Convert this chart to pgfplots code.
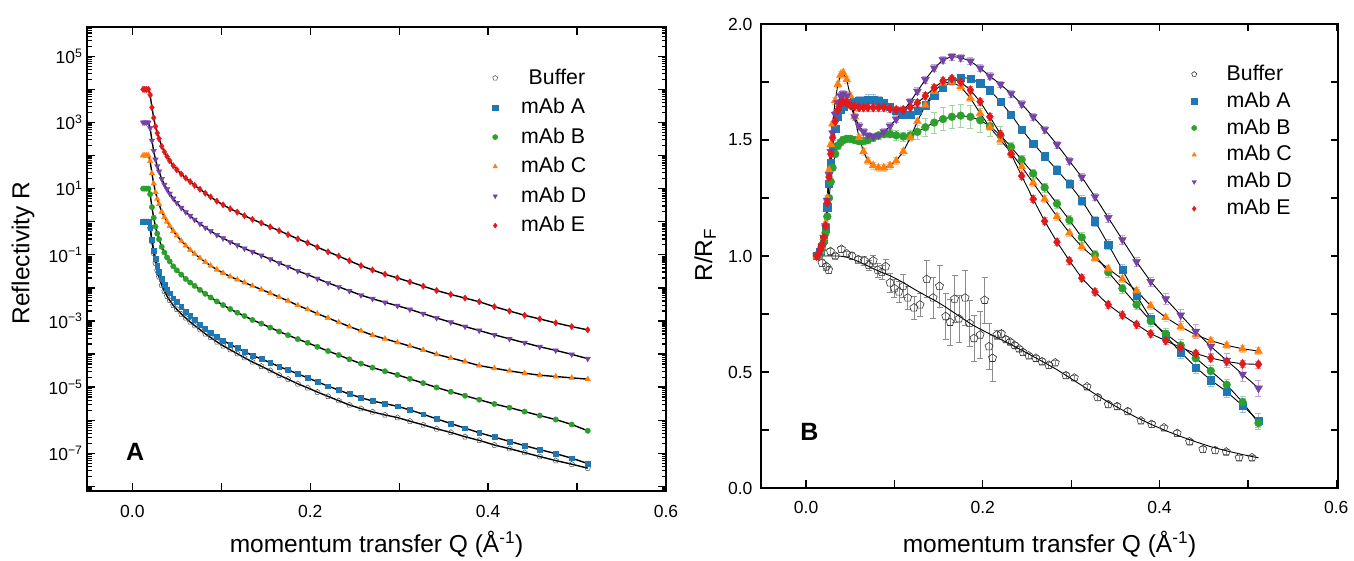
\documentclass[border=0pt]{standalone}
\usepackage{fontspec}
\setmainfont{Liberation Sans}
\usepackage{pgfplots}
\usepackage{pgfplotstable}
\pgfplotsset{compat=1.18}
\definecolor{cA}{RGB}{31,119,180}
\definecolor{cB}{RGB}{44,160,44}
\definecolor{cC}{RGB}{255,127,14}
\definecolor{cD}{RGB}{117,66,168}
\definecolor{cE}{RGB}{227,26,28}
\newcommand\tickfont{\fontsize{17.5}{20}\selectfont}
\newcommand\labfont{\fontsize{24.5}{28}\selectfont}
\newcommand\legfont{\fontsize{21.3}{24}\selectfont}
\pgfplotsset{mylegimg/.style={legend image code/.code={\draw[##1,mark size=2.6pt] plot coordinates {(0pt,0pt)}; \path[draw=none,fill=none] (-6pt,-6pt) rectangle (#1,6pt);}}}
\def\minorlist{-8.09691,-8.04576}%
\foreach \d in {-8,...,5}{\foreach \m in {0.30103,0.47712,0.60206,0.69897,0.77815,0.84510,0.90309,0.95424}{\pgfmathsetmacro\v{\d+\m}\xdef\minorlist{\minorlist,\v}}}%
% columns: Q, R/RF, error of R/RF, log10 R (offset)
\pgfplotstableread{
Q r e lr
0.012 1.00 0.01 0.00
0.014 1.00 0.01 0.00
0.016 1.02 0.01 0.00
0.018 1.04 0.01 0.00
0.020 1.07 0.01 -0.17
0.022 1.12 0.01 -0.55
0.024 1.21 0.01 -0.87
0.026 1.31 0.01 -1.13
0.028 1.40 0.01 -1.33
0.030 1.47 0.01 -1.50
0.033 1.55 0.015 -1.73
0.036 1.60 0.015 -1.90
0.039 1.63 0.015 -2.04
0.042 1.645 0.015 -2.16
0.046 1.655 0.015 -2.31
0.050 1.66 0.015 -2.43
0.055 1.665 0.015 -2.56
0.060 1.67 0.02 -2.71
0.065 1.67 0.02 -2.84
0.070 1.672 0.025 -2.97
0.076 1.672 0.025 -3.11
0.082 1.67 0.02 -3.24
0.088 1.66 0.015 -3.35
0.095 1.645 0.015 -3.47
0.102 1.625 0.015 -3.59
0.110 1.61 0.015 -3.71
0.118 1.61 0.015 -3.82
0.126 1.625 0.015 -3.93
0.135 1.65 0.015 -4.04
0.145 1.69 0.015 -4.15
0.155 1.725 0.015 -4.26
0.165 1.755 0.015 -4.38
0.175 1.77 0.015 -4.48
0.186 1.765 0.015 -4.60
0.197 1.745 0.015 -4.72
0.208 1.715 0.015 -4.84
0.220 1.665 0.015 -4.97
0.232 1.61 0.015 -5.09
0.244 1.545 0.015 -5.21
0.257 1.485 0.015 -5.32
0.270 1.43 0.015 -5.42
0.284 1.37 0.02 -5.50
0.298 1.31 0.02 -5.58
0.312 1.24 0.02 -5.69
0.327 1.15 0.02 -5.82
0.342 1.05 0.02 -5.96
0.358 0.94 0.025 -6.10
0.374 0.83 0.025 -6.24
0.390 0.73 0.025 -6.38
0.407 0.655 0.025 -6.51
0.424 0.585 0.025 -6.64
0.441 0.52 0.025 -6.77
0.458 0.465 0.025 -6.89
0.476 0.415 0.025 -7.01
0.494 0.355 0.03 -7.15
0.512 0.29 0.03 -7.31
}\tabA
\pgfplotstableread{
Q r e lr
0.012 1.00 0.01 1.00
0.014 1.00 0.01 1.00
0.016 1.01 0.01 1.00
0.018 1.03 0.01 1.00
0.020 1.06 0.01 0.83
0.022 1.10 0.01 0.44
0.024 1.17 0.01 0.12
0.026 1.25 0.01 -0.15
0.028 1.32 0.01 -0.36
0.030 1.38 0.01 -0.53
0.033 1.44 0.015 -0.76
0.036 1.475 0.015 -0.93
0.039 1.49 0.015 -1.08
0.042 1.50 0.015 -1.20
0.046 1.505 0.015 -1.35
0.050 1.505 0.015 -1.47
0.055 1.50 0.015 -1.60
0.060 1.495 0.015 -1.73
0.065 1.495 0.015 -1.84
0.070 1.50 0.015 -1.94
0.076 1.51 0.015 -2.06
0.082 1.52 0.015 -2.18
0.088 1.525 0.015 -2.29
0.095 1.525 0.015 -2.41
0.102 1.52 0.02 -2.52
0.110 1.515 0.02 -2.64
0.118 1.52 0.02 -2.75
0.126 1.535 0.03 -2.85
0.135 1.555 0.04 -2.97
0.145 1.575 0.045 -3.08
0.155 1.59 0.05 -3.20
0.165 1.60 0.05 -3.32
0.175 1.605 0.05 -3.43
0.186 1.60 0.05 -3.55
0.197 1.585 0.05 -3.66
0.208 1.56 0.045 -3.78
0.220 1.52 0.04 -3.91
0.232 1.47 0.02 -4.03
0.244 1.415 0.02 -4.16
0.257 1.355 0.02 -4.29
0.270 1.295 0.02 -4.41
0.284 1.225 0.02 -4.52
0.298 1.155 0.02 -4.63
0.312 1.08 0.02 -4.75
0.327 1.005 0.02 -4.88
0.342 0.93 0.02 -5.01
0.358 0.86 0.02 -5.14
0.374 0.79 0.02 -5.26
0.390 0.72 0.025 -5.38
0.407 0.665 0.025 -5.51
0.424 0.615 0.025 -5.62
0.441 0.56 0.025 -5.74
0.458 0.505 0.025 -5.86
0.476 0.445 0.025 -5.98
0.494 0.37 0.025 -6.13
0.512 0.28 0.025 -6.32
}\tabB
\pgfplotstableread{
Q r e lr
0.012 1.00 0.01 2.00
0.014 1.00 0.01 2.00
0.016 1.02 0.01 2.00
0.018 1.04 0.01 2.00
0.020 1.08 0.01 1.83
0.022 1.14 0.01 1.46
0.024 1.25 0.01 1.15
0.026 1.37 0.01 0.89
0.028 1.48 0.01 0.69
0.030 1.57 0.01 0.53
0.033 1.67 0.015 0.30
0.036 1.74 0.015 0.14
0.039 1.78 0.015 0.00
0.042 1.79 0.015 -0.13
0.046 1.76 0.015 -0.28
0.050 1.69 0.015 -0.42
0.055 1.60 0.015 -0.58
0.060 1.51 0.015 -0.72
0.065 1.45 0.015 -0.85
0.070 1.41 0.015 -0.97
0.076 1.39 0.015 -1.10
0.082 1.38 0.015 -1.22
0.088 1.38 0.015 -1.33
0.095 1.39 0.015 -1.45
0.102 1.41 0.015 -1.55
0.110 1.45 0.015 -1.66
0.118 1.51 0.015 -1.75
0.126 1.58 0.015 -1.84
0.135 1.65 0.015 -1.94
0.145 1.71 0.015 -2.05
0.155 1.745 0.015 -2.16
0.165 1.75 0.015 -2.28
0.175 1.73 0.015 -2.39
0.186 1.68 0.015 -2.53
0.197 1.615 0.015 -2.65
0.208 1.555 0.015 -2.78
0.220 1.50 0.015 -2.91
0.232 1.445 0.015 -3.04
0.244 1.385 0.015 -3.17
0.257 1.315 0.015 -3.30
0.270 1.245 0.015 -3.43
0.284 1.17 0.015 -3.54
0.298 1.10 0.015 -3.65
0.312 1.04 0.015 -3.76
0.327 0.99 0.015 -3.88
0.342 0.945 0.015 -4.01
0.358 0.90 0.015 -4.12
0.374 0.85 0.015 -4.23
0.390 0.785 0.015 -4.35
0.407 0.735 0.015 -4.43
0.424 0.695 0.015 -4.51
0.441 0.66 0.015 -4.58
0.458 0.635 0.015 -4.64
0.476 0.615 0.015 -4.68
0.494 0.60 0.015 -4.72
0.512 0.59 0.015 -4.76
}\tabC
\pgfplotstableread{
Q r e lr
0.012 1.00 0.01 3.00
0.014 1.00 0.01 3.00
0.016 1.02 0.01 3.00
0.018 1.04 0.01 3.00
0.020 1.08 0.01 2.83
0.022 1.13 0.01 2.45
0.024 1.24 0.01 2.14
0.026 1.35 0.01 1.88
0.028 1.45 0.01 1.68
0.030 1.53 0.01 1.52
0.033 1.61 0.015 1.29
0.036 1.66 0.015 1.12
0.039 1.69 0.015 0.98
0.042 1.70 0.015 0.85
0.046 1.69 0.015 0.70
0.050 1.65 0.015 0.57
0.055 1.60 0.015 0.42
0.060 1.56 0.015 0.29
0.065 1.535 0.015 0.18
0.070 1.52 0.015 0.06
0.076 1.515 0.015 -0.06
0.082 1.52 0.015 -0.18
0.088 1.535 0.015 -0.28
0.095 1.56 0.015 -0.40
0.102 1.59 0.015 -0.50
0.110 1.625 0.015 -0.61
0.118 1.665 0.015 -0.71
0.126 1.71 0.015 -0.81
0.135 1.76 0.015 -0.91
0.145 1.81 0.015 -1.02
0.155 1.845 0.015 -1.13
0.165 1.86 0.015 -1.25
0.175 1.855 0.015 -1.36
0.186 1.84 0.015 -1.49
0.197 1.81 0.015 -1.60
0.208 1.775 0.015 -1.72
0.220 1.74 0.015 -1.85
0.232 1.70 0.015 -1.97
0.244 1.655 0.015 -2.09
0.257 1.60 0.015 -2.22
0.270 1.545 0.015 -2.33
0.284 1.48 0.015 -2.44
0.298 1.41 0.015 -2.54
0.312 1.34 0.015 -2.65
0.327 1.255 0.015 -2.78
0.342 1.165 0.02 -2.91
0.358 1.07 0.02 -3.04
0.374 0.975 0.02 -3.17
0.390 0.89 0.02 -3.29
0.407 0.815 0.025 -3.42
0.424 0.745 0.025 -3.54
0.441 0.675 0.03 -3.66
0.458 0.61 0.03 -3.78
0.476 0.55 0.03 -3.89
0.494 0.49 0.03 -4.01
0.512 0.43 0.035 -4.14
}\tabD
\pgfplotstableread{
Q r e lr
0.012 1.00 0.01 4.00
0.014 1.01 0.01 4.00
0.016 1.03 0.01 4.00
0.018 1.05 0.01 4.00
0.020 1.08 0.01 3.83
0.022 1.13 0.01 3.45
0.024 1.23 0.01 3.14
0.026 1.34 0.01 2.88
0.028 1.44 0.01 2.68
0.030 1.51 0.01 2.51
0.033 1.58 0.015 2.28
0.036 1.63 0.015 2.11
0.039 1.655 0.015 1.97
0.042 1.665 0.015 1.84
0.046 1.66 0.015 1.69
0.050 1.65 0.015 1.57
0.055 1.645 0.015 1.44
0.060 1.64 0.015 1.32
0.065 1.64 0.015 1.21
0.070 1.64 0.015 1.10
0.076 1.64 0.015 0.98
0.082 1.64 0.015 0.86
0.088 1.64 0.015 0.75
0.095 1.635 0.015 0.62
0.102 1.63 0.015 0.51
0.110 1.63 0.015 0.39
0.118 1.64 0.015 0.29
0.126 1.66 0.015 0.18
0.135 1.69 0.015 0.07
0.145 1.725 0.015 -0.04
0.155 1.755 0.015 -0.16
0.165 1.765 0.015 -0.27
0.175 1.75 0.015 -0.39
0.186 1.715 0.015 -0.52
0.197 1.665 0.015 -0.64
0.208 1.60 0.015 -0.77
0.220 1.525 0.015 -0.91
0.232 1.44 0.015 -1.04
0.244 1.345 0.015 -1.18
0.257 1.245 0.015 -1.33
0.270 1.15 0.015 -1.46
0.284 1.06 0.015 -1.59
0.298 0.98 0.015 -1.70
0.312 0.905 0.015 -1.82
0.327 0.845 0.015 -1.95
0.342 0.79 0.015 -2.08
0.358 0.745 0.015 -2.20
0.374 0.705 0.015 -2.31
0.390 0.665 0.015 -2.42
0.407 0.635 0.015 -2.57
0.424 0.605 0.015 -2.70
0.441 0.58 0.015 -2.83
0.458 0.56 0.015 -2.94
0.476 0.545 0.015 -3.06
0.494 0.535 0.015 -3.17
0.512 0.533 0.015 -3.27
}\tabE
% buffer: fit of R/RF and log10 R on the common grid
\pgfplotstableread{
Q fit lr
0.012 1.0 0.00
0.014 1.0 0.00
0.016 1.0 0.00
0.018 1.0 0.00
0.020 1.0 -0.20
0.022 1.0 -0.60
0.024 1.0 -0.95
0.026 1.0 -1.25
0.028 1.0 -1.48
0.030 1.0 -1.67
0.033 1.0 -1.92
0.036 1.0 -2.10
0.039 0.999 -2.25
0.042 0.998 -2.38
0.046 0.995 -2.53
0.050 0.99 -2.65
0.055 0.983 -2.79
0.060 0.975 -2.91
0.065 0.966 -3.03
0.070 0.957 -3.14
0.076 0.946 -3.26
0.082 0.935 -3.39
0.088 0.926 -3.50
0.095 0.915 -3.63
0.102 0.902 -3.75
0.110 0.885 -3.87
0.118 0.867 -3.99
0.126 0.849 -4.11
0.135 0.83 -4.24
0.145 0.81 -4.37
0.155 0.787 -4.50
0.165 0.762 -4.64
0.175 0.736 -4.76
0.186 0.708 -4.90
0.197 0.685 -5.02
0.208 0.664 -5.15
0.220 0.641 -5.28
0.232 0.618 -5.41
0.244 0.594 -5.54
0.257 0.567 -5.65
0.270 0.54 -5.75
0.284 0.51 -5.84
0.298 0.476 -5.92
0.312 0.442 -6.03
0.327 0.405 -6.14
0.342 0.37 -6.26
0.358 0.336 -6.37
0.374 0.304 -6.50
0.390 0.275 -6.61
0.407 0.247 -6.75
0.424 0.222 -6.86
0.441 0.199 -6.98
0.458 0.178 -7.10
0.476 0.16 -7.22
0.494 0.144 -7.33
0.512 0.13 -7.45
}\tabBuf
% buffer R/RF data points
\pgfplotstableread{
Q r e
0.018 0.97 0.015
0.023 0.955 0.015
0.0255 0.94 0.015
0.0276 1.02 0.015
0.033 1.00 0.012
0.040 1.03 0.012
0.046 1.01 0.012
0.052 1.00 0.015
0.059 0.985 0.015
0.066 0.98 0.02
0.071 0.96 0.02
0.076 0.98 0.025
0.081 0.94 0.03
0.0857 0.93 0.03
0.090 0.955 0.03
0.095 0.885 0.04
0.100 0.86 0.04
0.105 0.846 0.045
0.110 0.87 0.05
0.115 0.82 0.05
0.122 0.777 0.05
0.129 0.79 0.05
0.1366 0.90 0.08
0.1438 0.82 0.09
0.151 0.87 0.09
0.158 0.74 0.1
0.163 0.715 0.1
0.168 0.815 0.1
0.173 0.73 0.1
0.180 0.82 0.12
0.185 0.71 0.1
0.190 0.645 0.1
0.197 0.66 0.1
0.202 0.81 0.1
0.207 0.61 0.1
0.211 0.56 0.1
0.216 0.66 0.02
0.221 0.665 0.015
0.226 0.64 0.012
0.231 0.63 0.012
0.236 0.615 0.012
0.241 0.60 0.012
0.2455 0.585 0.012
0.252 0.57 0.012
0.260 0.56 0.012
0.267 0.545 0.012
0.2746 0.53 0.012
0.282 0.54 0.012
0.294 0.485 0.012
0.3036 0.475 0.012
0.318 0.437 0.012
0.330 0.39 0.012
0.342 0.36 0.012
0.352 0.352 0.012
0.364 0.33 0.012
0.379 0.29 0.012
0.391 0.275 0.012
0.405 0.26 0.012
0.420 0.236 0.012
0.434 0.20 0.012
0.449 0.167 0.012
0.463 0.162 0.012
0.4755 0.156 0.012
0.490 0.131 0.012
0.5046 0.131 0.012
}\tabBufData
\begin{document}
\begin{tikzpicture}[x=1pt,y=1pt]
\useasboundingbox (0,0) rectangle (1354,561);
% ---------------- panel A ----------------
\begin{axis}[
  at={(87pt,70pt)}, anchor=south west, scale only axis,
  width=579pt, height=464pt,
  xmin=-0.051, xmax=0.6, ymin=-8.14, ymax=5.885,
  axis line style={line width=1.6pt},
  tick align=inside,
  major tick length=8pt, minor tick length=4.5pt,
  every tick/.style={line width=1.3pt, black},
  xtick={0,0.1,0.2,0.3,0.4,0.5,0.6},
  xticklabels={0.0,,0.2,,0.4,,0.6},
  ytick={-8,...,5},
  yticklabels={,10\textsuperscript{−7},,10\textsuperscript{−5},,10\textsuperscript{−3},,10\textsuperscript{−1},,10\textsuperscript{1},,10\textsuperscript{3},,10\textsuperscript{5}},
  minor ytick=\minorlist,
  xticklabel style={font=\tickfont, yshift=-11pt},
  yticklabel style={font=\tickfont, xshift=-1pt},
  xlabel={momentum transfer Q (Å\textsuperscript{-1})},
  ylabel={Reflectivity R},
  xlabel style={font=\labfont, at={(axis description cs:0.5,-0.1336)}, anchor=base},
  ylabel style={font=\labfont, at={(axis description cs:-0.1105,0.513)}, anchor=center},
  legend style={at={(axis description cs:0.6943,0.9097)}, anchor=north west, draw=none, fill=none, inner sep=0pt, row sep=11.5pt, font=\legfont, nodes={inner sep=0pt, text height=15pt, text depth=3pt}},
  legend cell align=left,
  mylegimg=26pt,
]
\addplot[only marks, mark=pentagon, mark size=2.8pt, draw=black!70, mark options={line width=0.5pt}] table[x=Q,y=lr]{\tabBuf};
\addplot[only marks, mark=square*, mark size=2.4pt, cA] table[x=Q,y=lr]{\tabA};
\addplot[only marks, mark=*, mark size=2.7pt, cB] table[x=Q,y=lr]{\tabB};
\addplot[only marks, mark=triangle*, mark size=3.2pt, cC] table[x=Q,y=lr]{\tabC};
\addplot[only marks, mark=triangle*, mark size=3.2pt, cD, mark options={rotate=180}] table[x=Q,y=lr]{\tabD};
\addplot[only marks, mark=diamond*, mark size=3.2pt, cE] table[x=Q,y=lr]{\tabE};
\addplot[black, line width=1.4pt, forget plot] table[x=Q,y=lr]{\tabBuf};
\addplot[black, line width=1.4pt, forget plot] table[x=Q,y=lr]{\tabA};
\addplot[black, line width=1.4pt, forget plot] table[x=Q,y=lr]{\tabB};
\addplot[black, line width=1.4pt, forget plot] table[x=Q,y=lr]{\tabC};
\addplot[black, line width=1.4pt, forget plot] table[x=Q,y=lr]{\tabD};
\addplot[black, line width=1.4pt, forget plot] table[x=Q,y=lr]{\tabE};
\legend{\hspace*{7.5pt}Buffer,mAb A,mAb B,mAb C,mAb D,mAb E}
\node[font=\bfseries\fontsize{25}{25}\selectfont] at (rel axis cs:0.083,0.084) {A};
\end{axis}
% ---------------- panel B ----------------
\begin{axis}[
  at={(761pt,73pt)}, anchor=south west, scale only axis,
  width=577pt, height=464pt,
  xmin=-0.051, xmax=0.602, ymin=0, ymax=2,
  axis line style={line width=1.6pt},
  tick align=inside,
  major tick length=7.5pt,
  every tick/.style={line width=1.3pt, black},
  xtick={0,0.1,0.2,0.3,0.4,0.5,0.6},
  xticklabels={0.0,,0.2,,0.4,,0.6},
  ytick={0,0.25,0.5,0.75,1,1.25,1.5,1.75,2},
  yticklabels={0.0,,0.5,,1.0,,1.5,,2.0},
  xticklabel style={font=\tickfont, yshift=-10pt},
  yticklabel style={font=\tickfont, xshift=-5pt},
  xlabel={momentum transfer Q (Å\textsuperscript{-1})},
  ylabel={R/R\textsubscript{F}},
  xlabel style={font=\labfont, at={(axis description cs:0.5,-0.140)}, anchor=base},
  ylabel style={font=\labfont, at={(axis description cs:-0.097,0.502)}, anchor=center},
  legend style={at={(axis description cs:0.740,0.9116)}, anchor=north west, draw=none, fill=none, inner sep=0pt, row sep=8.9pt, font=\legfont, nodes={inner sep=0pt, text height=15pt, text depth=3pt}},
  legend cell align=left,
  mylegimg=32.5pt,
]
\addplot[only marks, mark=pentagon, mark size=4.2pt, draw=black!80, mark options={line width=0.6pt},
  error bars/.cd, y dir=both, y explicit, error bar style={black!45, line width=0.6pt}, error mark options={black!45, rotate=90, mark size=3pt, line width=0.6pt}]
  table[x=Q,y=r,y error=e]{\tabBufData};
\addplot[only marks, mark=square*, mark size=3.6pt, cA,
  error bars/.cd, y dir=both, y explicit, error bar style={cA!45, line width=0.6pt}, error mark options={cA!45, rotate=90, mark size=3pt, line width=0.6pt}]
  table[x=Q,y=r,y error=e]{\tabA};
\addplot[only marks, mark=*, mark size=3.9pt, cB,
  error bars/.cd, y dir=both, y explicit, error bar style={cB!45, line width=0.6pt}, error mark options={cB!45, rotate=90, mark size=3pt, line width=0.6pt}]
  table[x=Q,y=r,y error=e]{\tabB};
\addplot[only marks, mark=triangle*, mark size=4.6pt, cC,
  error bars/.cd, y dir=both, y explicit, error bar style={cC!45, line width=0.6pt}, error mark options={cC!45, rotate=90, mark size=3pt, line width=0.6pt}]
  table[x=Q,y=r,y error=e]{\tabC};
\addplot[only marks, mark=triangle*, mark size=4.6pt, cD, mark options={rotate=180},
  error bars/.cd, y dir=both, y explicit, error bar style={cD!45, line width=0.6pt}, error mark options={cD!45, rotate=90, mark size=3pt, line width=0.6pt}]
  table[x=Q,y=r,y error=e]{\tabD};
\addplot[only marks, mark=diamond*, mark size=4.6pt, cE,
  error bars/.cd, y dir=both, y explicit, error bar style={cE!45, line width=0.6pt}, error mark options={cE!45, rotate=90, mark size=3pt, line width=0.6pt}]
  table[x=Q,y=r,y error=e]{\tabE};
\addplot[black, line width=0.9pt, forget plot] table[x=Q,y=fit]{\tabBuf};
\addplot[black, line width=0.9pt, forget plot] table[x=Q,y=r]{\tabA};
\addplot[black, line width=0.9pt, forget plot] table[x=Q,y=r]{\tabB};
\addplot[black, line width=0.9pt, forget plot] table[x=Q,y=r]{\tabC};
\addplot[black, line width=0.9pt, forget plot] table[x=Q,y=r]{\tabD};
\addplot[black, line width=0.9pt, forget plot] table[x=Q,y=r]{\tabE};
\legend{Buffer,mAb A,mAb B,mAb C,mAb D,mAb E}
\node[font=\bfseries\fontsize{25}{25}\selectfont] at (rel axis cs:0.084,0.121) {B};
\end{axis}
\end{tikzpicture}
\end{document}
